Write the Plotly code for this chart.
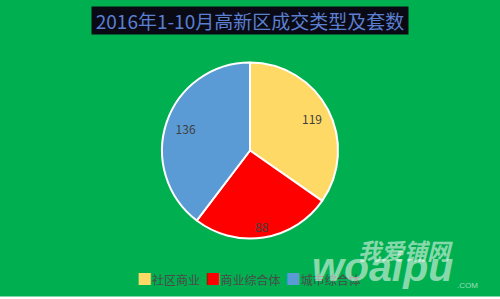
import plotly.graph_objects as go

categories = ["社区商业", "商业综合体", "城市综合体"]
values = [119, 88, 136]
colors = ["#FFD966", "#FF0000", "#5B9BD5"]
title_text = "2016年1-10月高新区成交类型及套数"

W, H = 500, 299
green = "#00B050"
cx, cy, r = 250, 150.5, 88
label_scale = 1.5  # labels placed farther out, as in the reference

fig = go.Figure()
# the pie itself
fig.add_trace(go.Pie(
    labels=categories,
    values=values,
    sort=False,
    direction="clockwise",
    rotation=0,
    marker=dict(colors=colors, line=dict(color="white", width=2)),
    textinfo="none",
    domain=dict(x=[(cx - r) / W, (cx + r) / W], y=[1 - (cy + r) / H, 1 - (cy - r) / H]),
    hoverinfo="label+value",
    showlegend=False,
))
# transparent companion pie that only carries the value labels further out
r2 = r * label_scale
fig.add_trace(go.Pie(
    labels=categories,
    values=values,
    sort=False,
    direction="clockwise",
    rotation=0,
    marker=dict(colors=["rgba(0,0,0,0)"] * len(values), line=dict(width=0)),
    textinfo="value",
    textposition="inside",
    insidetextorientation="horizontal",
    insidetextfont=dict(family="Noto Sans CJK SC, sans-serif", size=12, color="#404040"),
    domain=dict(x=[(cx - r2) / W, (cx + r2) / W], y=[1 - (cy + r2) / H, 1 - (cy - r2) / H]),
    hoverinfo="skip",
    showlegend=False,
))

legend_text = "&nbsp;&nbsp;".join(
    f"<span style='color:{c};font-size:15px'>■</span>{lab}" for lab, c in zip(categories, colors)
)

wm = "rgba(255,255,255,0.55)"
fig.update_layout(
    width=W, height=H,
    margin=dict(l=0, r=0, t=0, b=0),
    paper_bgcolor=green,
    plot_bgcolor=green,
    showlegend=False,
    font=dict(family="Noto Sans CJK SC, sans-serif"),
    annotations=[
        dict(
            text=title_text,
            x=0.5, y=1 - 20.5 / H, xref="paper", yref="paper",
            xanchor="center", yanchor="middle",
            showarrow=False,
            width=312, height=23, align="center", valign="middle",
            font=dict(family="Noto Sans CJK SC, sans-serif", size=19, color="#5B7FD0"),
            bgcolor="#0A0A14",
            borderpad=2,
        ),
        # legend
        dict(
            text=legend_text,
            x=248.5 / W, y=1 - 278 / H, xref="paper", yref="paper",
            xanchor="center", yanchor="middle", showarrow=False,
            font=dict(family="Noto Sans CJK SC, sans-serif", size=12, color="#4A4A4A"),
        ),
        # watermark
        dict(text="<b><i>我爱铺网</i></b>", x=356 / W, y=1 - 250 / H, xref="paper", yref="paper",
             xanchor="left", yanchor="middle", showarrow=False,
             font=dict(family="Noto Sans CJK SC, sans-serif", size=23, color=wm)),
        dict(text="<b><i>woaipu</i></b>", x=310 / W, y=1 - 267 / H, xref="paper", yref="paper",
             xanchor="left", yanchor="middle", showarrow=False,
             font=dict(family="Liberation Sans, sans-serif", size=41, color=wm)),
        dict(text=".COM", x=455 / W, y=1 - 285 / H, xref="paper", yref="paper",
             xanchor="left", yanchor="middle", showarrow=False,
             font=dict(family="Liberation Sans, sans-serif", size=8, color="rgba(255,255,255,0.6)")),
    ],
    shapes=[
        dict(type="rect", xref="paper", yref="paper", x0=0, x1=1, y0=0, y1=2.5 / H,
             fillcolor="white", line=dict(width=0), layer="above"),
    ],
)

fig.write_html("out.html")
